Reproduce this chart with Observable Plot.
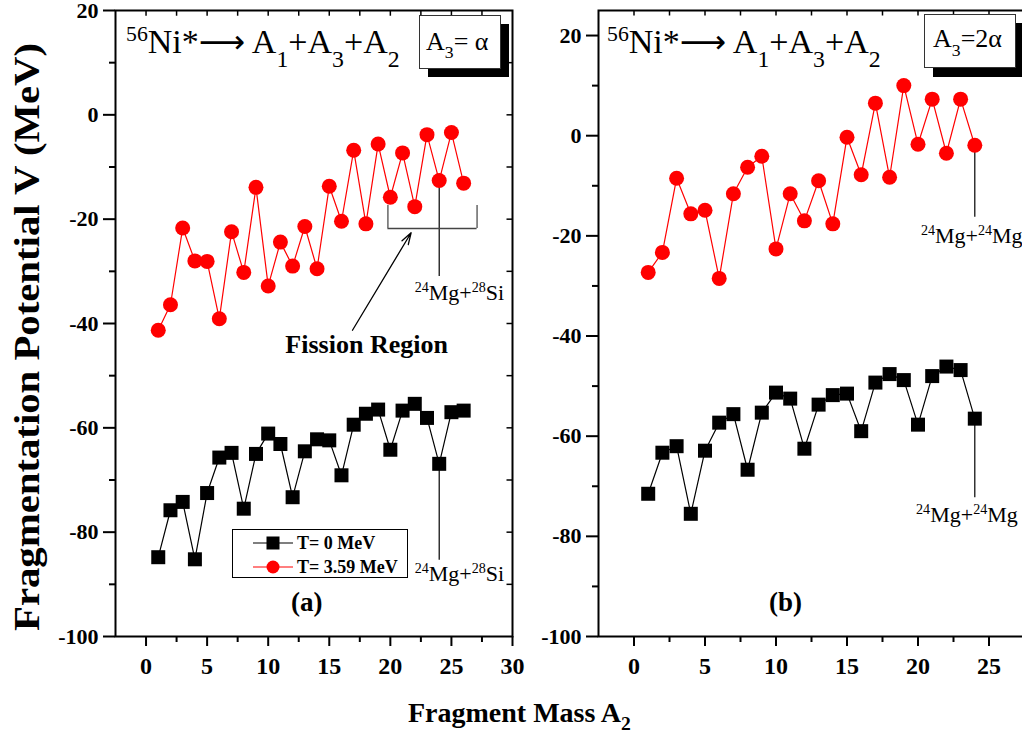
<!DOCTYPE html>
<html><head><meta charset="utf-8">
<script src="https://cdn.jsdelivr.net/npm/d3@7"></script>
<script src="https://cdn.jsdelivr.net/npm/@observablehq/plot@0.6"></script>
<style>
html,body{margin:0;padding:0;background:#fff;overflow:hidden;}
#wrap{position:relative;width:1022px;height:740px;overflow:hidden;font-family:"Liberation Serif","Times New Roman",serif;}
#wrap > svg{position:absolute;top:0;}
</style></head><body><div id="wrap"></div>
<script>
// ---------- data ----------
const massA = [1,2,3,4,5,6,7,8,9,10,11,12,13,14,15,16,17,18,19,20,21,22,23,24,25,26];
const potT0A = [-84.8,-75.8,-74.2,-85.2,-72.5,-65.7,-64.8,-75.5,-65.0,-61.1,-63.1,-73.3,-64.5,-62.2,-62.4,-69.1,-59.4,-57.3,-56.5,-64.2,-56.7,-55.4,-58.1,-66.9,-57.0,-56.7];
const potT359A = [-41.3,-36.4,-21.7,-28.0,-28.1,-39.1,-22.4,-30.2,-13.9,-32.8,-24.4,-29.0,-21.4,-29.5,-13.7,-20.4,-6.8,-20.9,-5.6,-15.8,-7.3,-17.6,-3.8,-12.6,-3.4,-13.1];
const massB = [1,2,3,4,5,6,7,8,9,10,11,12,13,14,15,16,17,18,19,20,21,22,23,24];
const potT0B = [-71.5,-63.3,-62.0,-75.5,-62.9,-57.3,-55.6,-66.7,-55.3,-51.3,-52.5,-62.5,-53.7,-51.8,-51.5,-59.0,-49.3,-47.6,-48.8,-57.7,-48.0,-46.1,-46.8,-56.5];
const potT359B = [-27.3,-23.3,-8.5,-15.6,-14.9,-28.5,-11.6,-6.3,-4.1,-22.6,-11.6,-17.0,-9.0,-17.6,-0.3,-7.8,6.5,-8.3,10.0,-1.7,7.3,-3.5,7.3,-1.9];

const xTicksA = [0,5,10,15,20,25,30];
const xMinorA = [2.5,7.5,12.5,17.5,22.5,27.5];
const xTopA = [0,2.5,5,7.5,10,12.5,15,17.5,20,22.5,25,27.5];
const xTicksB = [0,5,10,15,20,25];
const xMinorB = [2.5,7.5,12.5,17.5,22.5];
const xTopB = [0,2.5,5,7.5,10,12.5,15,17.5,20,22.5,25];
const yTicks = [-100,-80,-60,-40,-20,0,20];
const yMinor = [-90,-70,-50,-30,-10,10];
const yRightA = [-90,-80,-70,-60,-50,-40,-30,-20,-10,0,10];
const seriesLabels = ["T= 0 MeV", "T= 3.59 MeV"];

const rowsA = massA.map((m,i)=>({m, t0: potT0A[i], t359: potT359A[i]}));
const rowsB = massB.map((m,i)=>({m, t0: potT0B[i], t359: potT359B[i]}));

// annotation anchors (data units)
const bracketA = {x1: 19.8, x2: 27.1, y: -21.8, yTop: -17.4};
const arrowA = {x1: 16.9, y1: -41.3, x2: 21.7, y2: -22.6};
const connA = [{x: 24, y1: -12.6, y2: -31.0}, {x: 24, y1: -66.9, y2: -85.4}];
const connB = [{x: 24, y1: -1.9, y2: -16.3}, {x: 24, y1: -56.5, y2: -72.3}];

function panel(o) {
  return Plot.plot({
    width: o.width, height: 690,
    marginLeft: o.mL, marginRight: o.mR, marginTop: 10, marginBottom: 54,
    style: {fontFamily: '"Liberation Serif", "Times New Roman", serif', background: "transparent", overflow: "visible", color: "black"},
    x: {domain: o.xDomain, label: null},
    y: {domain: o.yDomain, label: null},
    marks: [
      Plot.axisX({ticks: o.xMajor, tickSize: 10, tickPadding: 10, fontSize: 24, fontWeight: "bold", strokeWidth: 2, label: null, tickFormat: d => String(d)}),
      Plot.axisX({ticks: o.xMinor, tickSize: 6, strokeWidth: 2, label: null, tickFormat: () => ""}),
      Plot.axisY({ticks: yTicks, tickSize: 12, tickPadding: 5, fontSize: 22, fontWeight: "bold", strokeWidth: 2, label: null, tickFormat: d => String(d)}),
      Plot.axisY({ticks: yMinor, tickSize: 6, strokeWidth: 2, label: null, tickFormat: () => ""}),
      Plot.ruleX(o.xTop, {x: d => d, y1: o.yDomain[1], y2: o.yDomain[1] - 1.1, strokeWidth: 1.5}),
      Plot.ruleY(o.yRight, {y: d => d, x1: o.xDomain[1], x2: o.xDomain[1] - 0.45, strokeWidth: 1.5}),
      Plot.frame({strokeWidth: 2}),
      ...o.annotations,
      Plot.line(o.rows, {x: "m", y: "t0", stroke: "black", strokeWidth: 1.2}),
      Plot.line(o.rows, {x: "m", y: "t359", stroke: "red", strokeWidth: 1.2}),
      Plot.dot(o.rows, {x: "m", y: "t0", symbol: "square", r: 7.9, fill: "black", stroke: "none"}),
      Plot.dot(o.rows, {x: "m", y: "t359", r: 7.5, fill: "red", stroke: "none"})
    ]
  });
}

const plotA = panel({
  width: 530, mL: 115, mR: 18, xDomain: [-2.5, 30], yDomain: [-100, 20],
  xMajor: xTicksA, xMinor: xMinorA, xTop: xTopA, yRight: yRightA, rows: rowsA,
  annotations: [
    Plot.ruleX(connA, {x: "x", y1: "y1", y2: "y2", stroke: "black", strokeWidth: 1.2}),
    Plot.ruleY([bracketA], {y: "y", x1: "x1", x2: "x2", stroke: "#444", strokeWidth: 1.5}),
    Plot.ruleX([bracketA.x1, bracketA.x2], {x: d => d, y1: bracketA.y, y2: bracketA.yTop, stroke: "#666", strokeWidth: 1.5}),
    Plot.arrow([arrowA], {x1: "x1", y1: "y1", x2: "x2", y2: "y2", stroke: "black", strokeWidth: 1.3, headLength: 14, headAngle: 35})
  ]
});
const plotB = panel({
  width: 500, mL: 68, mR: 6, xDomain: [-2.5, 27.5], yDomain: [-100, 25],
  xMajor: xTicksB, xMinor: xMinorB, xTop: xTopB, yRight: [], rows: rowsB,
  annotations: [
    Plot.ruleX(connB, {x: "x", y1: "y1", y2: "y2", stroke: "black", strokeWidth: 1.2})
  ]
});
const wrap = document.getElementById("wrap");
plotA.style.left = "0px";
plotB.style.left = "530px";
wrap.appendChild(plotA);
wrap.appendChild(plotB);

const ax = v => plotA.scale("x").apply(v), ay = v => plotA.scale("y").apply(v);
const bx = v => 530 + plotB.scale("x").apply(v), by = v => plotB.scale("y").apply(v);

// ---------- overlay text ----------
const ov = d3.select(wrap).append("svg").attr("width", 1022).attr("height", 740)
  .style("left", "0px").style("font-family", '"Liberation Serif","Times New Roman",serif');

function rich(x, y, parts, size, opts = {}) {
  const t = ov.append("text").attr("x", x).attr("y", y).attr("font-size", size)
    .attr("text-anchor", opts.anchor || "start").attr("font-weight", opts.bold ? "bold" : "normal").attr("fill", "black");
  let shift = 0;
  for (const [s, kind, fam, scale] of parts) {
    let target = 0, fs = size * (scale || 1);
    if (kind === "sup") { target = -0.36 * size; fs = 0.64 * size; }
    if (kind === "sub") { target = opts.subShift != null ? opts.subShift : 0.4 * size; fs = (opts.subScale || 0.7) * size; }
    const sp = t.append("tspan").attr("dy", target - shift).attr("font-size", fs).text(s);
    if (fam) sp.attr("font-family", fam);
    shift = target;
  }
  return t;
}

// titles
const titleParts = [["56","sup"],["Ni*"],["\u27f6","", '"DejaVu Sans"', 0.95],["\u2009A"],["1","sub"],["+A"],["3","sub"],["+A"],["2","sub"]];
rich(126, 53, titleParts, 34, {subShift: 14});
rich(607, 53, titleParts, 34, {subShift: 14});

// A3 boxes with shadows
ov.append("rect").attr("x", 428).attr("y", 24).attr("width", 81).attr("height", 53).attr("fill", "black");
ov.append("rect").attr("x", 419.5).attr("y", 15.5).attr("width", 81).attr("height", 53).attr("fill", "white").attr("stroke", "#333").attr("stroke-width", 1);
rich(426, 50, [["A"],["3","sub"],["= \u03b1"]], 26, {subShift: 8, subScale: 0.68});
ov.append("rect").attr("x", 933).attr("y", 23).attr("width", 92).attr("height", 54).attr("fill", "black");
ov.append("rect").attr("x", 924.5).attr("y", 14.5).attr("width", 91).attr("height", 53).attr("fill", "white").attr("stroke", "#333").attr("stroke-width", 1);
rich(933, 47, [["A"],["3","sub"],["=2\u03b1"]], 26, {subShift: 9, subScale: 0.68});

// nucleus labels
const mgSi = [["24","sup"],["Mg+"],["28","sup"],["Si"]];
const mgMg = [["24","sup"],["Mg+"],["24","sup"],["Mg"]];
rich(ax(25.7), ay(-35.6), mgSi, 22, {anchor: "middle"});
rich(ax(25.7), ay(-89.4), mgSi, 22, {anchor: "middle"});
rich(bx(20.24), by(-21.5), mgMg, 22);
rich(bx(19.9), by(-77.2), mgMg, 22);

// Fission region
rich(ax(18.1), ay(-45.7), [["Fission Region"]], 26, {anchor: "middle", bold: true});

// panel letters
rich(ax(13.2), ay(-95.2), [["(a)"]], 27, {anchor: "middle", bold: true});
rich(bx(10.7), by(-95.0), [["(b)"]], 27, {anchor: "middle", bold: true});

// legend
const lg = ov.append("g");
lg.append("rect").attr("x", 232.5).attr("y", 529.5).attr("width", 175).attr("height", 48).attr("fill", "white").attr("stroke", "black").attr("stroke-width", 1);
[0,1].forEach(i => {
  const yy = 543 + i * 24;
  lg.append("line").attr("x1", 253).attr("x2", 293).attr("y1", yy).attr("y2", yy).attr("stroke", i ? "red" : "black").attr("stroke-width", 1.2);
  if (i === 0) lg.append("rect").attr("x", 266.5).attr("y", yy - 6.5).attr("width", 13).attr("height", 13).attr("fill", "black");
  else lg.append("circle").attr("cx", 273).attr("cy", yy).attr("r", 6.5).attr("fill", "red");
  rich(297, yy + 6, [[seriesLabels[i]]], 18, {bold: true});
});

// axis titles
ov.append("text").attr("transform", "translate(39,337) rotate(-90)").attr("text-anchor", "middle")
  .attr("font-size", 35).attr("font-weight", "bold").attr("textLength", 588).attr("lengthAdjust", "spacingAndGlyphs")
  .text("Fragmentation Potential V (MeV)");
rich(408, 722, [["Fragment Mass A"],["2","sub"]], 28, {bold: true, subShift: 8});
</script></body></html>
